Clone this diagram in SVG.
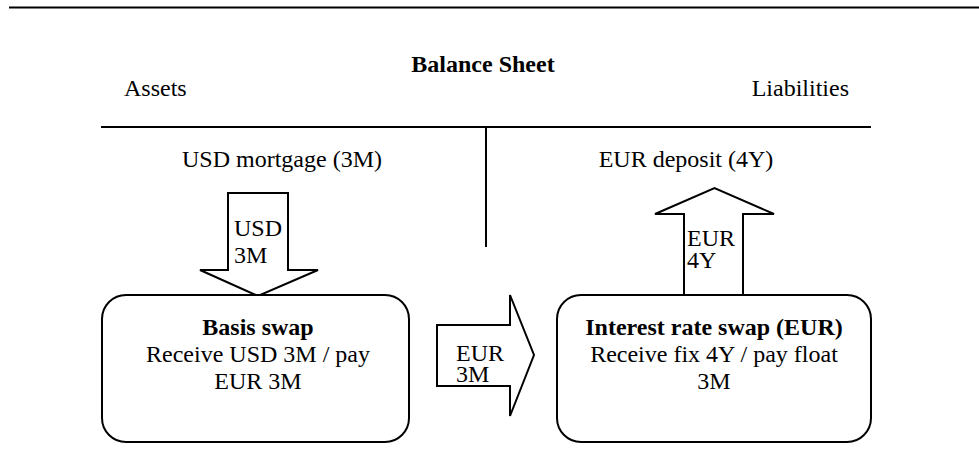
<svg xmlns="http://www.w3.org/2000/svg" width="979" height="461" viewBox="0 0 979 461">
<rect width="979" height="461" fill="#fff"/>
<g id="frame" stroke="#000" stroke-width="2" fill="none">
<line x1="9" y1="7.5" x2="979" y2="7.5"/>
<line x1="101" y1="127" x2="871" y2="127"/>
<line x1="486" y1="127" x2="486" y2="247"/>
</g>
<g id="headings">
<text font-family="Liberation Serif" font-size="24" font-weight="bold" x="483" y="72" text-anchor="middle">Balance Sheet</text>
<text font-family="Liberation Serif" font-size="24" x="124" y="96">Assets</text>
<text font-family="Liberation Serif" font-size="24" x="849" y="96" text-anchor="end">Liabilities</text>
</g>
<g id="usd-mortgage"><text font-family="Liberation Serif" font-size="24" x="282" y="167" text-anchor="middle">USD mortgage (3M)</text></g>
<g id="eur-deposit"><text font-family="Liberation Serif" font-size="24" x="686" y="167" text-anchor="middle">EUR deposit (4Y)</text></g>
<g id="connectors">
<g id="arrow-usd">
<polygon stroke="#000" stroke-width="2" fill="#fff" points="228,193 288,193 288,270 318,270 258,296 200,270 228,270"/>
<text font-family="Liberation Serif" font-size="24" x="234" y="236">USD</text>
<text font-family="Liberation Serif" font-size="24" x="234" y="263">3M</text>
</g>
<g id="arrow-eur4y">
<polygon stroke="#000" stroke-width="2" fill="#fff" points="684,295 684,214 655,214 714.5,188 774,214 743,214 743,295"/>
<text font-family="Liberation Serif" font-size="24" x="687" y="246">EUR</text>
<text font-family="Liberation Serif" font-size="24" x="687" y="268">4Y</text>
</g>
<g id="arrow-eur3m">
<polygon stroke="#000" stroke-width="2" fill="#fff" points="437,325 510,325 510,295 534,355 510,416 510,386 437,386"/>
<text font-family="Liberation Serif" font-size="24" x="456" y="361">EUR</text>
<text font-family="Liberation Serif" font-size="24" x="456" y="382">3M</text>
</g>
</g>
<g id="basis-swap">
<rect stroke="#000" stroke-width="2" fill="#fff" x="102" y="295" width="307" height="147" rx="24" ry="24"/>
<text font-family="Liberation Serif" font-size="24" font-weight="bold" x="258" y="335" text-anchor="middle">Basis swap</text>
<text font-family="Liberation Serif" font-size="24" x="258" y="362" text-anchor="middle">Receive USD 3M / pay</text>
<text font-family="Liberation Serif" font-size="24" x="258" y="389" text-anchor="middle">EUR 3M</text>
</g>
<g id="irs-eur">
<rect stroke="#000" stroke-width="2" fill="#fff" x="557" y="295" width="314" height="147" rx="24" ry="24"/>
<text font-family="Liberation Serif" font-size="24" font-weight="bold" x="714" y="335" text-anchor="middle">Interest rate swap (EUR)</text>
<text font-family="Liberation Serif" font-size="24" x="714" y="362" text-anchor="middle">Receive fix 4Y / pay float</text>
<text font-family="Liberation Serif" font-size="24" x="714" y="389" text-anchor="middle">3M</text>
</g>
</svg>
